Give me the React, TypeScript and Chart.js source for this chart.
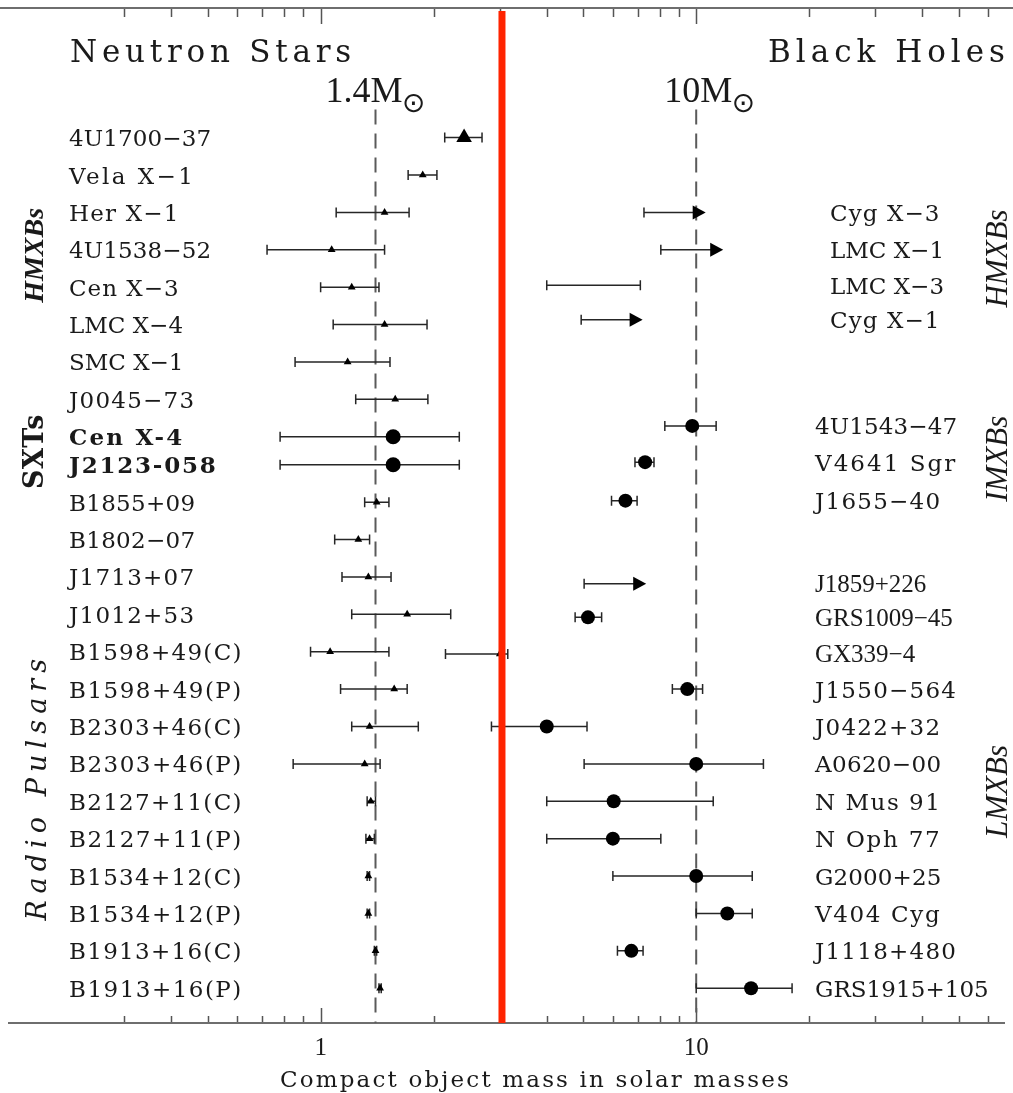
import { useEffect, useRef } from 'react';
import { Chart, registerables } from 'chart.js';

Chart.register(...registerables);

// ---------------- axis data ----------------
const X_MIN = 0.148;
const X_MAX = 66;
const Y_MIN = -3.44;
const Y_MAX = 23.68;
const X_TICKS = [0.3, 0.4, 0.5, 0.6, 0.7, 0.8, 0.9, 1, 2, 3, 4, 5, 6, 7, 8, 9, 10, 20, 30, 40, 50, 60];
const X_MAJOR = [1, 10];
const X_TITLE = 'Compact object mass in solar masses';

const REF_MASSES = [1.4, 10];
const REF_TEXT = ['1.4M', '10M'];
const SUN = '⊙';
const NS_LIMIT_MASS = 3.04;
const PANEL_TITLES = ['Neutron Stars', 'Black Holes'];

// ---------------- neutron stars ----------------
const NS_NAMES = [
  '4U1700−37', 'Vela X−1', 'Her X−1', '4U1538−52', 'Cen X−3', 'LMC X−4', 'SMC X−1', 'J0045−73',
  'Cen X-4', 'J2123-058',
  'B1855+09', 'B1802−07', 'J1713+07', 'J1012+53', 'B1598+49(C)', 'B1598+49(P)',
  'B2303+46(C)', 'B2303+46(P)', 'B2127+11(C)', 'B2127+11(P)', 'B1534+12(C)', 'B1534+12(P)',
  'B1913+16(C)', 'B1913+16(P)',
];
const NS_ROW = [0, 1, 2, 3, 4, 5, 6, 7, 8, 8.75, 9.75, 10.75, 11.75, 12.75, 13.75, 14.75, 15.75, 16.75, 17.75, 18.75, 19.75, 20.75, 21.75, 22.75];
const NS_MASS = [2.41, 1.87, 1.48, 1.07, 1.21, 1.48, 1.18, 1.58, 1.56, 1.56, 1.41, 1.26, 1.34, 1.70, 1.06, 1.57, 1.35, 1.31, 1.36, 1.35, 1.34, 1.34, 1.40, 1.44];
const NS_LOW = [2.14, 1.71, 1.10, 0.72, 1.00, 1.08, 0.855, 1.24, 0.78, 0.78, 1.31, 1.09, 1.14, 1.21, 0.94, 1.13, 1.21, 0.845, 1.33, 1.32, 1.33, 1.33, 1.39, 1.43];
const NS_HIGH = [2.69, 2.04, 1.72, 1.48, 1.43, 1.92, 1.53, 1.93, 2.34, 2.34, 1.52, 1.35, 1.54, 2.22, 1.52, 1.70, 1.82, 1.44, 1.40, 1.39, 1.35, 1.35, 1.41, 1.45];
const NS_MARK = ['big', 'tri', 'tri', 'tri', 'tri', 'tri', 'tri', 'tri', 'dot', 'dot', 'tri', 'tri', 'tri', 'tri', 'tri', 'tri', 'tri', 'tri', 'tri', 'tri', 'tri', 'tri', 'tri', 'tri'];
const NS_GROUPS = ['HMXBs', 'SXTs', 'Radio Pulsars'];

// ---------------- black holes ----------------
const BH_NAMES = [
  'Cyg X−3', 'LMC X−1', 'LMC X−3', 'Cyg X−1',
  '4U1543−47', 'V4641 Sgr', 'J1655−40',
  'J1859+226', 'GRS1009−45', 'GX339−4', 'J1550−564', 'J0422+32', 'A0620−00', 'N Mus 91', 'N Oph 77',
  'G2000+25', 'V404 Cyg', 'J1118+480', 'GRS1915+105',
];
const BH_GROUP = ['HMXB', 'HMXB', 'HMXB', 'HMXB', 'IMXB', 'IMXB', 'IMXB', 'LMXB', 'LMXB', 'LMXB', 'LMXB', 'LMXB', 'LMXB', 'LMXB', 'LMXB', 'LMXB', 'LMXB', 'LMXB', 'LMXB'];
const BH_ROW = [2, 3, 3.95, 4.87, 7.71, 8.68, 9.71, 11.93, 12.83, 13.81, 14.75, 15.75, 16.75, 17.75, 18.75, 19.75, 20.75, 21.75, 22.75];
const BH_MASS = [null, null, null, null, 9.76, 7.31, 6.48, null, 5.15, 3.0, 9.47, 4.0, 10.0, 6.03, 6.0, 10.0, 12.1, 6.72, 14.0];
const BH_LOW = [7.26, 8.05, 4.0, 4.94, 8.25, 6.87, 5.95, 5.03, 4.76, 2.15, 8.64, 2.85, 5.03, 4.0, 4.0, 6.0, 10.0, 6.17, 10.0];
const BH_HIGH = [10.6, 11.8, 7.1, 7.2, 11.3, 7.72, 6.96, 7.36, 5.6, 3.15, 10.4, 5.12, 15.1, 11.1, 8.05, 14.1, 14.1, 7.22, 18.0];
const BH_KIND = ['limit', 'limit', 'range', 'limit', 'dot', 'dot', 'dot', 'limit', 'dot', 'tri', 'dot', 'dot', 'dot', 'dot', 'dot', 'dot', 'dot', 'dot', 'dot'];
const BH_GROUPS = ['HMXBs', 'IMXBs', 'LMXBs'];

// ---------------- rendering ----------------
const SERIF = "'Liberation Serif', 'Times New Roman', serif";
const TYPE = "'DejaVu Serif', serif";
const INK = '#1a1a1a';
const PROPORTIONAL = new Set(['J1859+226', 'GRS1009−45', 'GX339−4']);

function spaced(ctx: CanvasRenderingContext2D, text: string, x: number, y: number, cell: number, align: 'left' | 'center' = 'left') {
  const c: any = ctx;
  c.letterSpacing = '0px';
  const natural = ctx.measureText(text).width;
  const n = Array.from(text).length;
  const ls = cell > 0 ? Math.max(0, (n * cell - natural) / n) : 0;
  c.letterSpacing = `${ls}px`;
  const visible = natural + ls * (n - 1);
  ctx.textAlign = 'left';
  ctx.fillText(text, align === 'center' ? x - visible / 2 : x, y);
  c.letterSpacing = '0px';
}

function rotated(ctx: CanvasRenderingContext2D, text: string, bx: number, cy: number, font: string, cell: number) {
  ctx.save();
  ctx.translate(bx, cy);
  ctx.rotate(-Math.PI / 2);
  ctx.font = font;
  ctx.textBaseline = 'alphabetic';
  spaced(ctx, text, 0, 0, cell, 'center');
  ctx.restore();
}

const overlay = {
  id: 'overlay',
  beforeDatasetsDraw(chart: any) {
    const { ctx, chartArea: a, scales } = chart;
    const xs = scales.x;
    const ys = scales.y;
    ctx.save();
    // top frame line
    ctx.strokeStyle = '#6e6e6e';
    ctx.lineWidth = 2;
    ctx.beginPath();
    ctx.moveTo(0, a.top - 1);
    ctx.lineTo(chart.width, a.top - 1);
    ctx.stroke();
    // inward tick marks, top and bottom
    ctx.strokeStyle = '#555';
    ctx.lineWidth = 1.5;
    X_TICKS.forEach((v) => {
      const px = Math.round(xs.getPixelForValue(v)) + 0.5;
      const major = X_MAJOR.includes(v);
      ctx.beginPath();
      ctx.moveTo(px, a.top);
      ctx.lineTo(px, a.top + (major ? 15 : 8));
      ctx.moveTo(px, a.bottom - 1);
      ctx.lineTo(px, a.bottom - (major ? 15 : 7));
      ctx.stroke();
    });
    // dashed reference masses
    ctx.setLineDash([15, 9]);
    ctx.strokeStyle = '#5a5a5a';
    ctx.lineWidth = 2;
    REF_MASSES.forEach((m) => {
      const px = xs.getPixelForValue(m);
      ctx.beginPath();
      ctx.moveTo(px, ys.getPixelForValue(-0.75));
      ctx.lineTo(px, a.bottom);
      ctx.stroke();
    });
    ctx.setLineDash([]);
    // error bars
    ctx.strokeStyle = '#262626';
    ctx.lineWidth = 1.5;
    ctx.fillStyle = '#000';
    const bar = (lo: number, hi: number, row: number, limit: boolean) => {
      const x1 = xs.getPixelForValue(lo);
      const x2 = xs.getPixelForValue(hi);
      const y = ys.getPixelForValue(row);
      ctx.beginPath();
      ctx.moveTo(x1, y);
      ctx.lineTo(limit ? x2 - 12 : x2, y);
      ctx.moveTo(x1, y - 5);
      ctx.lineTo(x1, y + 5);
      if (!limit) {
        ctx.moveTo(x2, y - 5);
        ctx.lineTo(x2, y + 5);
      }
      ctx.stroke();
      if (limit) {
        ctx.beginPath();
        ctx.moveTo(x2, y);
        ctx.lineTo(x2 - 13, y - 7);
        ctx.lineTo(x2 - 13, y + 7);
        ctx.closePath();
        ctx.fill();
      }
    };
    NS_NAMES.forEach((_, i) => bar(NS_LOW[i], NS_HIGH[i], NS_ROW[i], false));
    BH_NAMES.forEach((_, i) => bar(BH_LOW[i], BH_HIGH[i], BH_ROW[i], BH_KIND[i] === 'limit'));
    ctx.restore();
  },
  afterDatasetsDraw(chart: any) {
    const { ctx, chartArea: a, scales } = chart;
    const px = scales.x.getPixelForValue(NS_LIMIT_MASS);
    ctx.save();
    ctx.strokeStyle = 'rgb(255,36,0)';
    ctx.lineWidth = 7;
    ctx.beginPath();
    ctx.moveTo(px, a.top + 2);
    ctx.lineTo(px, a.bottom);
    ctx.stroke();
    ctx.restore();
  },
  afterDraw(chart: any) {
    const { ctx, scales } = chart;
    const xs = scales.x;
    const ys = scales.y;
    ctx.save();
    ctx.fillStyle = INK;
    ctx.textBaseline = 'alphabetic';
    // panel titles
    ctx.font = `31px ${TYPE}`;
    spaced(ctx, PANEL_TITLES[0], 70, 62, 22);
    spaced(ctx, PANEL_TITLES[1], 768, 62, 22);
    // reference mass labels
    REF_MASSES.forEach((m, i) => {
      const px = xs.getPixelForValue(m);
      const x0 = px - (i === 0 ? 50 : 32);
      ctx.font = `36px ${SERIF}`;
      ctx.textAlign = 'left';
      ctx.fillText(REF_TEXT[i], x0, 102);
      const w = ctx.measureText(REF_TEXT[i]).width;
      ctx.font = `28px 'DejaVu Sans', sans-serif`;
      ctx.textAlign = 'center';
      ctx.textBaseline = 'middle';
      ctx.fillText(SUN, x0 + w + 11, 105);
      ctx.textBaseline = 'alphabetic';
    });
    // neutron star names
    NS_NAMES.forEach((name, i) => {
      const bold = NS_MARK[i] === 'dot';
      ctx.font = `${bold ? 'bold ' : ''}23px ${TYPE}`;
      spaced(ctx, name, 69, ys.getPixelForValue(NS_ROW[i]) + 8.5, bold ? 16.5 : 15.8);
    });
    // black hole names
    BH_NAMES.forEach((name, i) => {
      const prop = PROPORTIONAL.has(name);
      ctx.font = prop ? `25px ${SERIF}` : `23px ${TYPE}`;
      const x = BH_GROUP[i] === 'HMXB' ? 830 : 815;
      spaced(ctx, name, x, ys.getPixelForValue(BH_ROW[i]) + 8.5, prop ? 0 : 15.8);
    });
    // group labels (rotated)
    rotated(ctx, NS_GROUPS[0], 43, ys.getPixelForValue(3.15), `bold italic 28px ${SERIF}`, 0);
    rotated(ctx, NS_GROUPS[1], 43, ys.getPixelForValue(8.4), `bold 27px ${TYPE}`, 18.7);
    rotated(ctx, NS_GROUPS[2], 46, ys.getPixelForValue(17.44), `italic 27px ${TYPE}`, 20.6);
    rotated(ctx, BH_GROUPS[0], 1007, ys.getPixelForValue(3.23), `italic 31px ${SERIF}`, 0);
    rotated(ctx, BH_GROUPS[1], 1007, ys.getPixelForValue(8.59), `italic 31px ${SERIF}`, 0);
    rotated(ctx, BH_GROUPS[2], 1007, ys.getPixelForValue(17.49), `italic 31px ${SERIF}`, 0);
    // x-axis title
    ctx.font = `23px ${TYPE}`;
    spaced(ctx, X_TITLE, 280, 1087, 14.6);
    ctx.restore();
  },
};

function pts(idx: number[], xsArr: (number | null)[], rows: number[]) {
  return idx.map((i) => ({ x: xsArr[i] as number, y: rows[i] }));
}

export default function App() {
  const ref = useRef<HTMLCanvasElement>(null);
  useEffect(() => {
    document.body.style.margin = '0';
    const nsIdx = (k: string) => NS_NAMES.map((_, i) => i).filter((i) => NS_MARK[i] === k);
    const bhIdx = (k: string) => BH_NAMES.map((_, i) => i).filter((i) => BH_KIND[i] === k);
    const base = { showLine: false, pointBorderWidth: 0, pointBackgroundColor: '#000', pointBorderColor: '#000', pointHoverRadius: 0 };
    const chart = new Chart(ref.current as HTMLCanvasElement, {
      type: 'scatter',
      data: {
        datasets: [
          { ...base, label: 'NS', data: pts(nsIdx('tri'), NS_MASS, NS_ROW), pointStyle: 'triangle', pointRadius: 4.5 },
          { ...base, label: 'NS wind', data: pts(nsIdx('big'), NS_MASS, NS_ROW), pointStyle: 'triangle', pointRadius: 9 },
          { ...base, label: 'NS SXT', data: pts(nsIdx('dot'), NS_MASS, NS_ROW), pointStyle: 'circle', pointRadius: 7.5 },
          { ...base, label: 'BH', data: pts(bhIdx('dot'), BH_MASS, BH_ROW), pointStyle: 'circle', pointRadius: 7 },
          { ...base, label: 'BH other', data: pts(bhIdx('tri'), BH_MASS, BH_ROW), pointStyle: 'triangle', pointRadius: 4.5 },
        ] as any,
      },
      options: {
        responsive: false,
        animation: false,
        events: [],
        layout: { padding: { top: 6, left: 0, right: 1, bottom: 0 } },
        plugins: { legend: { display: false }, tooltip: { enabled: false } },
        scales: {
          x: {
            type: 'logarithmic',
            position: 'bottom',
            min: X_MIN,
            max: X_MAX,
            grid: { display: false },
            border: { display: true, color: '#6e6e6e', width: 2 },
            afterBuildTicks: (scale: any) => {
              scale.ticks = X_TICKS.map((v) => ({ value: v, major: X_MAJOR.includes(v) }));
            },
            afterFit: (scale: any) => {
              scale.height = 70;
            },
            ticks: {
              autoSkip: false,
              maxRotation: 0,
              padding: 2,
              color: INK,
              font: { family: SERIF, size: 25 },
              callback: (v: any) => (X_MAJOR.includes(Number(v)) ? String(v) : ''),
            },
            title: { display: false, text: X_TITLE },
          },
          y: {
            type: 'linear',
            display: false,
            reverse: true,
            min: Y_MIN,
            max: Y_MAX,
          },
        },
      } as any,
      plugins: [overlay],
    });
    return () => chart.destroy();
  }, []);
  return (
    <div style={{ width: 1013, height: 1093 }}>
      <canvas ref={ref} width={1013} height={1093} style={{ display: 'block', width: 1013, height: 1093 }} />
    </div>
  );
}
